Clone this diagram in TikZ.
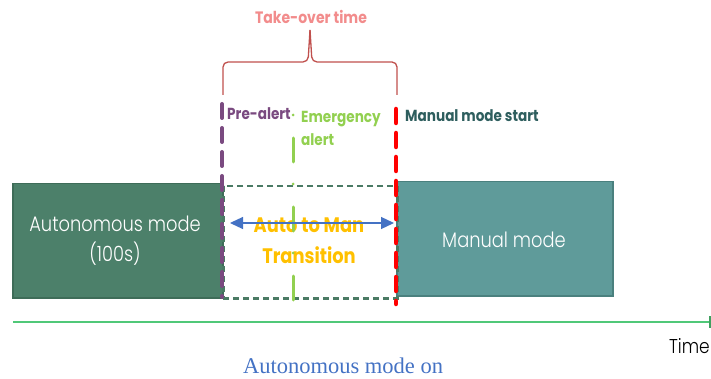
\documentclass[tikz,border=0pt]{standalone}
\usepackage{fontspec}
\setmainfont{Liberation Serif}
\newfontfamily\cg[FakeStretch=0.85]{Poppins}
\newfontfamily\cgl[FakeStretch=0.85]{Poppins Light}
\usetikzlibrary{arrows.meta}
\definecolor{autofill}{RGB}{76,128,106}
\definecolor{autoedge}{RGB}{62,108,88}
\definecolor{manfill}{RGB}{95,155,154}
\definecolor{manedge}{RGB}{74,128,126}
\definecolor{purp}{RGB}{122,74,128}
\definecolor{egreen}{RGB}{146,208,80}
\definecolor{mred}{RGB}{255,0,0}
\definecolor{boxdash}{RGB}{74,122,100}
\definecolor{tblue}{RGB}{68,114,196}
\definecolor{tyellow}{RGB}{255,192,0}
\definecolor{brace}{RGB}{192,80,77}
\definecolor{salmon}{RGB}{242,140,140}
\definecolor{mstart}{RGB}{46,94,94}
\definecolor{axis}{RGB}{80,200,120}
\tikzset{
  modebox/.style={draw, line width=1.5pt, inner sep=0pt},
  whitetxt/.style={text=white, font=\cgl\fontsize{21}{30}\selectfont, align=center},
  lbl/.style={font=\cg\bfseries\fontsize{16}{21}\selectfont, inner sep=0pt, anchor=west},
}
\begin{document}
\begin{tikzpicture}[x=1pt,y=-1pt]
\useasboundingbox (0,0) rectangle (711,379);
% mode boxes
\node[modebox, fill=autofill, draw=autoedge, minimum width=210pt, minimum height=114pt, anchor=north west] (auto) at (12,183) {};
\node[whitetxt] (autotxt) at (115,241) {Autonomous mode\\(100s)};
\node[modebox, fill=manfill, draw=manedge, minimum width=216pt, minimum height=114pt, anchor=north west] (man) at (396,181) {};
\node[whitetxt] (mantxt) at (504,240) {Manual mode};
% transition dashed box
\node[draw=boxdash, dash pattern=on 6pt off 4pt, line width=2.5pt, minimum width=174pt, minimum height=112pt, anchor=north west, inner sep=0pt] (trans) at (222,185) {};
\node[text=tyellow, font=\cg\bfseries\fontsize{21}{31}\selectfont, align=center] (transtxt) at (309,241) {Auto to Man\\Transition};
% emergency dash-dot line
\coordinate (eTop) at (293,115);
\coordinate (eBot) at (293,301);
\draw[egreen, line width=3pt, line cap=round, dash pattern=on 0pt off 23pt on 24pt off 22pt] (eTop) -- (eBot);
% double arrow
\coordinate (aL) at (230,223);
\coordinate (aR) at (394,223);
\draw[tblue, line width=1.2pt, {Triangle[length=13pt,width=12pt]}-{Triangle[length=13pt,width=12pt]}] (aL) -- (aR);
% purple and red dashed lines
\coordinate (pTop) at (222,104);
\coordinate (pBot) at (222,297);
\draw[purp, line width=4pt, line cap=round, dash pattern=on 14pt off 10pt] (pTop) -- (pBot);
\coordinate (rTop) at (396,109);
\coordinate (rBot) at (396,304);
\draw[mred, line width=4.5pt, line cap=round, dash pattern=on 14pt off 10pt] (rTop) -- (rBot);
% brace
\coordinate (bL) at (223,95);
\coordinate (bR) at (397,95);
\coordinate (bTip) at (310,30);
\draw[brace, line width=1.3pt, rounded corners=5pt] (bL) -- (223,62) -- (308,62) -- (bTip);
\draw[brace, line width=1.3pt, rounded corners=5pt] (bR) -- (397,62) -- (312,62) -- (bTip);
\node[text=salmon, font=\cg\bfseries\fontsize{16.5}{19}\selectfont] (tot) at (311,17) {Take-over time};
% labels
\node[lbl, text=purp] (pre) at (227,114) {Pre-alert};
\node[lbl, text=egreen, align=left, anchor=north west] (emg) at (301,111) {Emergency\\[2pt]alert};
\node[lbl, text=mstart] (mms) at (405,116) {Manual mode start};
% time axis
\coordinate (t0) at (13,322);
\coordinate (t1) at (710,322);
\draw[axis, line width=2pt] (t0) -- (t1);
\draw[axis!80!black, line width=1.5pt] (710,316) -- (710,328);
\node[font=\cgl\fontsize{20}{22}\selectfont, anchor=east, inner sep=0pt] (time) at (710,346) {Time};
\node[text=tblue, font=\fontsize{22.5}{26}\selectfont] (aon) at (343,366) {Autonomous mode on};
\end{tikzpicture}
\end{document}
